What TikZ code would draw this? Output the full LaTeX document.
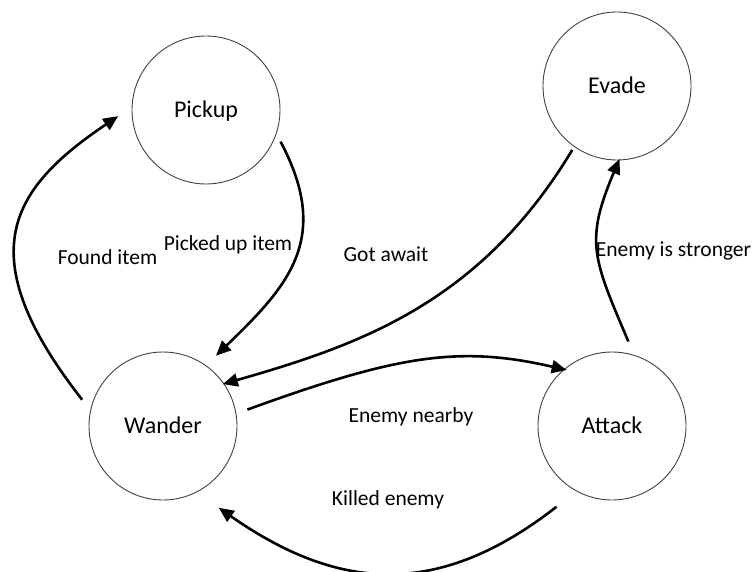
\documentclass[tikz,border=0pt]{standalone}
\usepackage{fontspec}
\setmainfont{Carlito}
\usetikzlibrary{arrows.meta,calc}
\tikzset{
  state/.style={circle, draw=black!75, line width=0.9pt, minimum size=148pt, inner sep=0pt,
    font=\fontsize{24}{28}\selectfont, text height=15.5pt, text depth=0pt},
  trans/.style={draw=black, line width=2.6pt, -{Triangle[length=15pt,width=13pt]}},
  lbl/.style={anchor=base, inner sep=0pt, font=\fontsize{21.5}{25}\selectfont}
}
\begin{document}
\begin{tikzpicture}[x=1pt,y=1pt]
\useasboundingbox (0,0) rectangle (755,571);
\node[state] (pickup) at (206,461) {Pickup};
\node[state] (evade)  at (617,485) {Evade};
\node[state] (wander) at (163,145) {Wander};
\node[state] (attack) at (612,145) {Attack};

% Found item
\draw[trans] ($(wander)+(162:85)$) .. controls +(128:185) and +(214:130) .. ($(pickup)+(184:88)$);
% Picked up item
\draw[trans] ($(pickup)+(-23:81)$) .. controls +(-62:110) and +(44:100) .. ($(wander)+(53:88)$);
% Got await
\draw[trans] ($(evade)+(235:78)$) .. controls +(239:180) and +(16:140) .. ($(wander)+(35:73)$);
% Enemy nearby
\draw[trans] ($(wander)+(11:86)$) .. controls +(20:160) and +(167:110) .. ($(attack)+(129:72)$);
% Killed enemy
\draw[trans] ($(attack)+(235.5:98)$) .. controls +(218:148) and +(-35:148) .. ($(wander)+(-55.7:99)$);
% Enemy is stronger
\draw[trans] ($(attack)+(79:86)$) .. controls +(113:90) and +(247:90) .. ($(evade)+(272:73)$);

\node[lbl] (l1) at (107.5,306) {Found item};
\node[lbl] (l2) at (228,320.3) {Picked up item};
\node[lbl] (l3) at (386,309.3) {Got await};
\node[lbl] (l4) at (673.5,314.3) {Enemy is stronger};
\node[lbl] (l5) at (411,148.3) {Enemy nearby};
\node[lbl] (l6) at (388,65.3) {Killed enemy};
\end{tikzpicture}
\end{document}
